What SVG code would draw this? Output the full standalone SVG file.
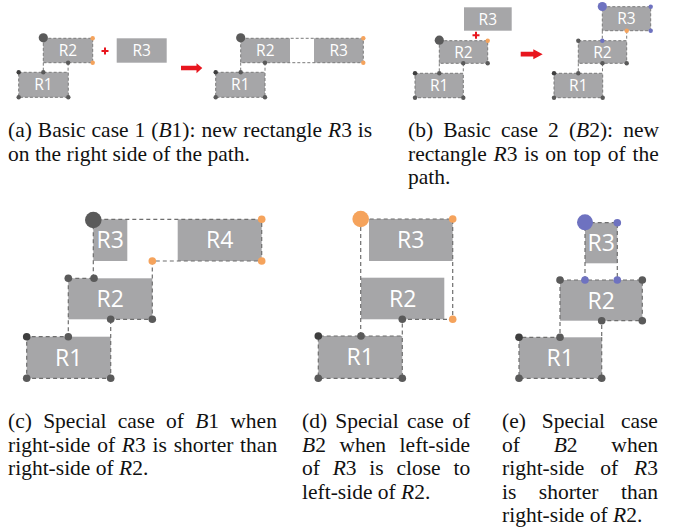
<svg xmlns="http://www.w3.org/2000/svg" width="685" height="530" viewBox="0 0 685 530">
<style>
.r{fill:#a6a6a8}
.d{fill:none;stroke:#7a7a7a;stroke-width:1;stroke-dasharray:3 2}
.D{fill:none;stroke:#6e6e6e;stroke-width:1.2;stroke-dasharray:4 3}
.k{fill:#5a5a5a}
.kk{fill:#3e3e3e}
.o{fill:#f5a35c}
.b{fill:#6e72c0}
.ls{font-family:'Open Sans','DejaVu Sans',sans-serif;font-size:15.5px;fill:#fff;text-anchor:middle}
.lb{font-family:'Open Sans','DejaVu Sans',sans-serif;font-size:23px;fill:#fff;text-anchor:middle}
.c{font-family:'Liberation Serif','Times New Roman',serif;font-size:21.5px;fill:#111}
.i{font-style:italic}
.red{fill:#e8161e}
</style>

<!-- (a) left -->
<g id="a-left">
<rect class="r" x="43.3" y="38.3" width="49.4" height="24.4"/>
<rect class="d" x="43.3" y="38.3" width="49.4" height="24.4"/>
<text class="ls" x="68" y="56">R2</text>
<rect class="r" x="18.7" y="72.3" width="49.6" height="25"/>
<rect class="d" x="18.7" y="72.3" width="49.6" height="25"/>
<text class="ls" x="43.5" y="90.3">R1</text>
<rect class="r" x="116.7" y="38.3" width="50" height="24.4"/>
<text class="ls" x="141.7" y="56">R3</text>
<path class="d" d="M43.3 62.7V72.3M68.1 62.7V72.3"/>
<circle class="k" cx="43.3" cy="37.8" r="4.6"/>
<circle class="o" cx="92.7" cy="38.3" r="2.2"/>
<circle class="o" cx="92.7" cy="62.7" r="2.2"/>
<circle class="k" cx="68.1" cy="62.7" r="2.2"/>
<circle class="k" cx="43.3" cy="72.3" r="2.2"/>
<circle class="kk" cx="18.7" cy="72.3" r="2.2"/>
<circle class="k" cx="18.7" cy="97.3" r="2.2"/>
<circle class="k" cx="68.3" cy="97.3" r="2.2"/>
<path class="red" d="M101.5 50h7v2h-7zM104 47.5h2v7h-2z"/>
</g>
<g id="arrow-a"><path class="red" d="M181 65.8H196.5V63.3L202.3 68L196.5 73.3V70.3H181Z"/></g>

<!-- (a) right -->
<g id="a-right">
<rect class="r" x="240.7" y="38.3" width="49.3" height="24.4"/>
<rect class="r" x="314" y="38.3" width="49.3" height="24.4"/>
<rect class="d" x="240.7" y="38.3" width="122.6" height="24.4"/>
<text class="ls" x="265.3" y="56">R2</text>
<text class="ls" x="338.7" y="56">R3</text>
<rect class="r" x="215.7" y="72.3" width="49.3" height="25"/>
<rect class="d" x="215.7" y="72.3" width="49.3" height="25"/>
<text class="ls" x="240.3" y="90.3">R1</text>
<path class="d" d="M240.7 62.7V72.3M265 62.7V72.3"/>
<circle class="k" cx="240.7" cy="37.8" r="4.6"/>
<circle class="o" cx="363.3" cy="38.3" r="2.2"/>
<circle class="o" cx="363.3" cy="62.7" r="2.2"/>
<circle class="k" cx="265" cy="62.7" r="2.2"/>
<circle class="k" cx="240.7" cy="72.3" r="2.2"/>
<circle class="kk" cx="215.7" cy="72.3" r="2.2"/>
<circle class="k" cx="215.7" cy="97.3" r="2.2"/>
<circle class="k" cx="265" cy="97.3" r="2.2"/>
</g>

<!-- (b) left -->
<g id="b-left">
<rect class="r" x="464" y="7.3" width="47.7" height="23.4"/>
<text class="ls" x="487.8" y="24.7">R3</text>
<rect class="r" x="439.3" y="40.7" width="48.4" height="22.6"/>
<rect class="d" x="439.3" y="40.7" width="48.4" height="22.6"/>
<text class="ls" x="463.5" y="57.5">R2</text>
<rect class="r" x="415" y="73.3" width="48.3" height="24.4"/>
<rect class="d" x="415" y="73.3" width="48.3" height="24.4"/>
<text class="ls" x="439.2" y="91">R1</text>
<path class="d" d="M439.3 63.3V73.3M463.3 63.3V73.3"/>
<circle class="k" cx="439.3" cy="40.2" r="4.6"/>
<circle class="o" cx="487.7" cy="40.7" r="2.2"/>
<circle class="k" cx="463.3" cy="63.3" r="2.2"/>
<circle class="k" cx="487.7" cy="63.3" r="2.2"/>
<circle class="k" cx="439.3" cy="73.3" r="2.2"/>
<circle class="kk" cx="415" cy="73.3" r="2.2"/>
<circle class="k" cx="415" cy="97.7" r="2.2"/>
<circle class="k" cx="463.3" cy="97.7" r="2.2"/>
<path class="red" d="M472.5 34.3h7v2h-7zM475 31.8h2v7h-2z"/>
</g>
<g id="arrow-b"><path class="red" d="M520.7 51.8H533.3V49.3L542.7 54.3L533.3 59.3V56.4H520.7Z"/></g>

<!-- (b) right -->
<g id="b-right">
<rect class="r" x="602.3" y="6.7" width="48.4" height="24"/>
<rect class="d" x="602.3" y="6.7" width="48.4" height="24"/>
<text class="ls" x="626.5" y="24">R3</text>
<rect class="r" x="578.3" y="40.7" width="48.4" height="22.6"/>
<rect class="d" x="578.3" y="40.7" width="48.4" height="22.6"/>
<text class="ls" x="602.5" y="57.5">R2</text>
<rect class="r" x="554" y="73.3" width="48.7" height="24.4"/>
<rect class="d" x="554" y="73.3" width="48.7" height="24.4"/>
<text class="ls" x="578.3" y="91">R1</text>
<path class="d" d="M602.3 30.7V40.7M626.7 30.7V40.7M578.3 63.3V73.3M602.5 63.3V73.3"/>
<circle class="b" cx="602.3" cy="6.5" r="4.6"/>
<circle class="b" cx="650.7" cy="6.7" r="2.2"/>
<circle class="b" cx="650.7" cy="30.7" r="2.2"/>
<circle class="o" cx="626.7" cy="30.7" r="2.2"/>
<circle class="b" cx="602.3" cy="40.7" r="2.2"/>
<circle class="k" cx="578.3" cy="40.7" r="2.2"/>
<circle class="k" cx="602.5" cy="63.3" r="2.2"/>
<circle class="k" cx="626.7" cy="63.3" r="2.2"/>
<circle class="k" cx="578.3" cy="73.3" r="2.2"/>
<circle class="kk" cx="554" cy="73.3" r="2.2"/>
<circle class="k" cx="554" cy="97.7" r="2.2"/>
<circle class="k" cx="602.7" cy="97.7" r="2.2"/>
</g>

<!-- (c) -->
<g id="c">
<rect class="r" x="93.3" y="219.3" width="34" height="41.7"/>
<rect class="r" x="177.7" y="219.3" width="84" height="41.7"/>
<rect class="r" x="68.3" y="278.3" width="84" height="41"/>
<rect class="r" x="26.7" y="336.7" width="84" height="41.6"/>
<text class="lb" x="110.3" y="248.3">R3</text>
<text class="lb" x="219.7" y="248.3">R4</text>
<text class="lb" x="110.3" y="307.3">R2</text>
<text class="lb" x="68.7" y="365.8">R1</text>
<path class="D" d="M93.3 278.3V219.3H261.7V261H152.3V319.3H110.7M68.3 278.3H93.3M68.3 278.3V319.3V336.7H26.7V378.3H110.7V319.3"/>
<circle class="k" cx="93.3" cy="220" r="8.3"/>
<circle class="o" cx="261.7" cy="219.3" r="3.8"/>
<circle class="o" cx="261.7" cy="261" r="3.8"/>
<circle class="o" cx="152.3" cy="261" r="3.8"/>
<circle class="k" cx="68.3" cy="278.3" r="3.8"/>
<circle class="k" cx="94" cy="278.3" r="3.8"/>
<circle class="k" cx="110.7" cy="319.3" r="3.8"/>
<circle class="k" cx="152.3" cy="319.3" r="3.8"/>
<circle class="k" cx="68.3" cy="336.7" r="3.8"/>
<circle class="kk" cx="26.7" cy="336.7" r="3.8"/>
<circle class="k" cx="26.7" cy="378.3" r="3.8"/>
<circle class="k" cx="110.7" cy="378.3" r="3.8"/>
</g>

<!-- (d) -->
<g id="d">
<rect class="r" x="369" y="219" width="83.7" height="42"/>
<rect class="r" x="361" y="277.7" width="83.3" height="41.6"/>
<rect class="r" x="318.3" y="336" width="84" height="42.3"/>
<text class="lb" x="410.8" y="248.3">R3</text>
<text class="lb" x="402.7" y="306.8">R2</text>
<text class="lb" x="360.3" y="365.3">R1</text>
<path class="D" d="M360.7 336V219H452.7V319.3H402.3V336H318.3V378.3H402.3V336"/>
<circle class="o" cx="360.7" cy="219" r="8.3"/>
<circle class="o" cx="452.7" cy="219" r="3.8"/>
<circle class="o" cx="452.7" cy="319.3" r="3.8"/>
<circle class="k" cx="402.3" cy="319.3" r="3.8"/>
<circle class="k" cx="361" cy="336" r="3.8"/>
<circle class="kk" cx="318.3" cy="336" r="3.8"/>
<circle class="k" cx="318.3" cy="378.3" r="3.8"/>
<circle class="k" cx="402.3" cy="378.3" r="3.8"/>
</g>

<!-- (e) -->
<g id="e">
<rect class="r" x="585" y="222.7" width="32.3" height="40.6"/>
<rect class="r" x="560" y="280" width="82.3" height="40.7"/>
<rect class="r" x="519" y="337.3" width="82.7" height="41"/>
<text class="lb" x="601.2" y="251.3">R3</text>
<text class="lb" x="601.2" y="308.8">R2</text>
<text class="lb" x="560.3" y="366.3">R1</text>
<path class="D" d="M585 280V222.7H617.3V280M560 280H642.3V320.7H601.7V337.3M560 280V337.3H519V378.3H601.7V337.3"/>
<circle class="b" cx="585" cy="222.3" r="8"/>
<circle class="b" cx="617.3" cy="222.7" r="3.8"/>
<circle class="b" cx="585" cy="280" r="3.8"/>
<circle class="b" cx="617.3" cy="280" r="3.8"/>
<circle class="k" cx="560" cy="280" r="3.8"/>
<circle class="k" cx="642.3" cy="280" r="3.8"/>
<circle class="k" cx="642.3" cy="320.7" r="3.8"/>
<circle class="k" cx="601.7" cy="320.7" r="3.8"/>
<circle class="k" cx="560" cy="337.3" r="3.8"/>
<circle class="kk" cx="519" cy="337.3" r="3.8"/>
<circle class="k" cx="519" cy="378.3" r="3.8"/>
<circle class="k" cx="601.7" cy="378.3" r="3.8"/>
</g>

<!-- captions -->
<g id="captions">
<text class="c" x="8" y="137" word-spacing="0.6">(a) Basic case 1 (<tspan class="i">B</tspan>1): new rectangle <tspan class="i">R</tspan>3 is</text>
<text class="c" x="8" y="160.5">on the right side of the path.</text>
<text class="c" x="408" y="137" word-spacing="4.7">(b) Basic case 2 (<tspan class="i">B</tspan>2): new</text>
<text class="c" x="408" y="160.5" word-spacing="1.4">rectangle <tspan class="i">R</tspan>3 is on top of the</text>
<text class="c" x="408" y="184">path.</text>

<text class="c" x="8" y="428" word-spacing="5.9">(c) Special case of <tspan class="i">B</tspan>1 when</text>
<text class="c" x="8" y="451.5" word-spacing="1.4">right-side of <tspan class="i">R</tspan>3 is shorter than</text>
<text class="c" x="8" y="475">right-side of <tspan class="i">R</tspan>2.</text>

<text class="c" x="302" y="428" word-spacing="2.9">(d) Special case of</text>
<text class="c" x="302" y="451.5" word-spacing="8.2"><tspan class="i">B</tspan>2 when left-side</text>
<text class="c" x="302" y="475" word-spacing="7.4">of <tspan class="i">R</tspan>3 is close to</text>
<text class="c" x="302" y="498.5">left-side of <tspan class="i">R</tspan>2.</text>

<text class="c" x="502" y="428" word-spacing="10.5">(e) Special case</text>
<text class="c" x="502" y="451.5" word-spacing="28.4">of <tspan class="i">B</tspan>2 when</text>
<text class="c" x="502" y="475" word-spacing="10.5">right-side of <tspan class="i">R</tspan>3</text>
<text class="c" x="502" y="498.5" word-spacing="17.1">is shorter than</text>
<text class="c" x="502" y="522">right-side of <tspan class="i">R</tspan>2.</text>
</g>
</svg>
